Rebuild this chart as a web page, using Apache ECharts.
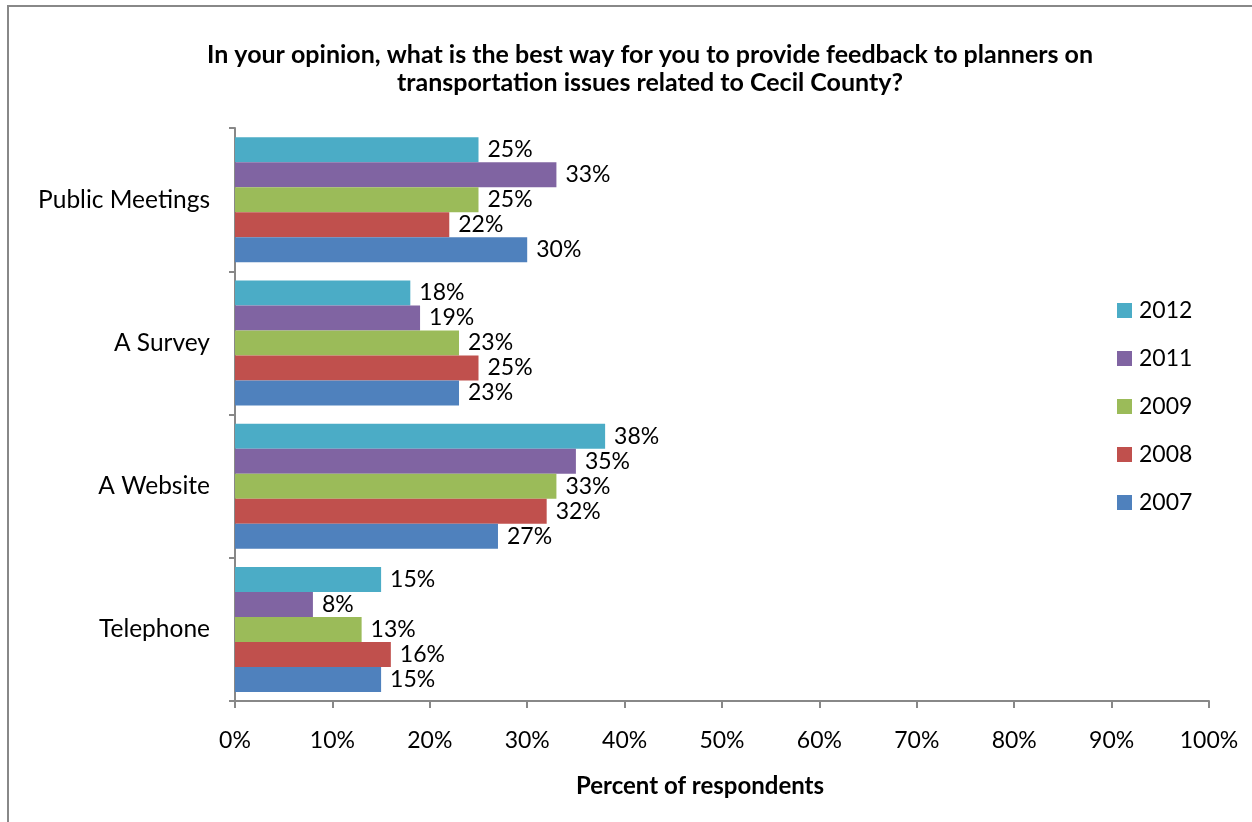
<!DOCTYPE html>
<html>
<head>
<meta charset="utf-8">
<title>Feedback to planners – Cecil County</title>
<script src="https://cdn.jsdelivr.net/npm/echarts@6/dist/echarts.min.js"></script>
<style>
  html, body { margin: 0; padding: 0; background: #ffffff; }
  #chart { width: 1252px; height: 822px; }
</style>
</head>
<body>
<div id="chart"></div>
<script>
// Survey answers, listed top to bottom
const categories = ['Public Meetings', 'A Survey', 'A Website', 'Telephone'];

// Percent of respondents per survey year
const years = ['2012', '2011', '2009', '2008', '2007'];
const values2012 = [25, 18, 38, 15];
const values2011 = [33, 19, 35, 8];
const values2009 = [25, 23, 33, 13];
const values2008 = [22, 25, 32, 16];
const values2007 = [30, 23, 27, 15];

const yearColors = ['#4BACC6', '#8064A2', '#9BBB59', '#C0504D', '#4F81BD'];
const seriesValues = [values2012, values2011, values2009, values2008, values2007];

const titleLines = [
  'In your opinion, what is the best way for you to provide feedback to planners on',
  'transportation issues related to Cecil County?'
];
const xAxisTitle = 'Percent of respondents';

const FONT = 'Lato, "Open Sans", sans-serif';
const AXIS_GREY = '#888888';

const chart = echarts.init(document.getElementById('chart'), null, { renderer: 'canvas' });

const series = years.map((y, i) => ({
  name: y,
  type: 'bar',
  data: seriesValues[i],
  barWidth: 25,
  barGap: '0%',
  itemStyle: { color: yearColors[i] },
  label: {
    show: true,
    position: 'right',
    distance: 9,
    formatter: '{c}%',
    color: '#000000',
    fontFamily: FONT,
    fontSize: 23
  }
}));

chart.setOption({
  backgroundColor: '#ffffff',
  animation: false,
  title: {
    text: titleLines.join('\n'),
    left: 645,
    top: 36,
    textAlign: 'center',
    textStyle: {
      fontFamily: FONT,
      fontWeight: 'bold',
      fontSize: 25,
      lineHeight: 28,
      color: '#000000'
    }
  },
  graphic: [
    {
      // outer chart frame
      type: 'rect',
      shape: { x: 8, y: 6, width: 1260, height: 830 },
      style: { fill: 'none', stroke: AXIS_GREY, lineWidth: 2 },
      silent: true
    },
    {
      // value axis title
      type: 'text',
      x: 700,
      y: 786,
      style: {
        text: xAxisTitle,
        align: 'center',
        verticalAlign: 'middle',
        fontFamily: FONT,
        fontWeight: 'bold',
        fontSize: 24,
        fill: '#000000'
      },
      silent: true
    }
  ],
  legend: {
    orient: 'vertical',
    left: 1112,
    top: 294,
    itemWidth: 15,
    itemHeight: 15,
    itemGap: 25,
    icon: 'rect',
    data: years,
    textStyle: { fontFamily: FONT, fontSize: 23, color: '#000000', padding: [0, 0, 0, 2] }
  },
  grid: {
    left: 235,
    right: 43,
    top: 128,
    bottom: 121,
    containLabel: false
  },
  xAxis: {
    type: 'value',
    min: 0,
    max: 100,
    interval: 10,
    axisLine: { show: true, lineStyle: { color: AXIS_GREY, width: 2 } },
    axisTick: { show: true, length: 7, lineStyle: { color: AXIS_GREY, width: 2 } },
    splitLine: { show: false },
    axisLabel: {
      formatter: '{value}%',
      margin: 28,
      fontFamily: FONT,
      fontSize: 23,
      color: '#000000'
    }
  },
  yAxis: {
    type: 'category',
    inverse: true,
    data: categories,
    axisLine: { show: true, lineStyle: { color: AXIS_GREY, width: 2 } },
    axisTick: { show: true, length: 6, lineStyle: { color: AXIS_GREY, width: 2 } },
    axisLabel: {
      margin: 25,
      fontFamily: FONT,
      fontSize: 24.5,
      color: '#000000'
    }
  },
  series: series
});
</script>
</body>
</html>
